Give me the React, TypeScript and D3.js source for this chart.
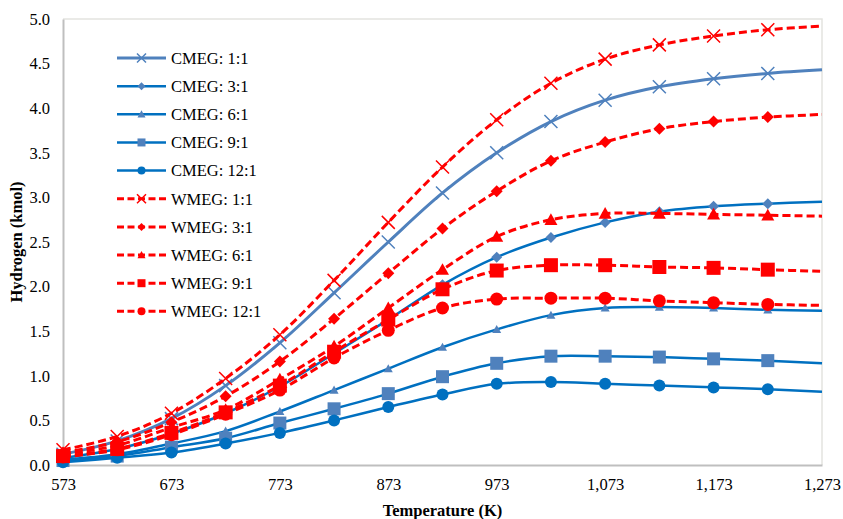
import React, { useEffect, useRef } from 'react';
import * as d3 from 'd3';

// Temperature (K) at which values were reported; last one has no marker
const temps = [573, 623, 673, 723, 773, 823, 873, 923, 973, 1023, 1073, 1123, 1173, 1223, 1273];

// Hydrogen (kmol)
const cmeg1 = [0.12, 0.27, 0.52, 0.89, 1.37, 1.93, 2.50, 3.05, 3.50, 3.85, 4.09, 4.24, 4.33, 4.39, 4.43];
const cmeg3 = [0.08, 0.18, 0.35, 0.58, 0.88, 1.25, 1.63, 2.02, 2.33, 2.55, 2.72, 2.84, 2.90, 2.93, 2.95];
const cmeg6 = [0.06, 0.12, 0.24, 0.38, 0.60, 0.84, 1.08, 1.32, 1.52, 1.68, 1.76, 1.77, 1.76, 1.74, 1.73];
const cmeg9 = [0.05, 0.10, 0.20, 0.30, 0.47, 0.63, 0.80, 0.99, 1.14, 1.22, 1.22, 1.21, 1.19, 1.17, 1.14];
const cmeg12 = [0.03, 0.08, 0.14, 0.24, 0.36, 0.50, 0.65, 0.79, 0.91, 0.93, 0.91, 0.89, 0.87, 0.85, 0.82];
const wmeg1 = [0.17, 0.32, 0.58, 0.97, 1.46, 2.07, 2.72, 3.34, 3.87, 4.28, 4.55, 4.71, 4.81, 4.88, 4.92];
const wmeg3 = [0.14, 0.26, 0.48, 0.77, 1.16, 1.64, 2.15, 2.65, 3.07, 3.41, 3.62, 3.77, 3.85, 3.90, 3.93];
const wmeg6 = [0.12, 0.22, 0.42, 0.62, 0.96, 1.33, 1.76, 2.19, 2.56, 2.75, 2.82, 2.82, 2.81, 2.80, 2.79];
const wmeg9 = [0.10, 0.18, 0.36, 0.59, 0.89, 1.27, 1.63, 1.97, 2.18, 2.24, 2.24, 2.22, 2.21, 2.19, 2.17];
const wmeg12 = [0.09, 0.17, 0.34, 0.57, 0.84, 1.20, 1.51, 1.76, 1.86, 1.87, 1.87, 1.84, 1.82, 1.80, 1.79];

const xTicks = [573, 673, 773, 873, 973, 1073, 1173, 1273];
const yTicks = [0, 0.5, 1, 1.5, 2, 2.5, 3, 3.5, 4, 4.5, 5];

const RED = '#FF0000';
const BLUE = '#0070C0';
const STEEL = '#4F81BD';

// series config, drawn in this order (WMEG on top)
const SERIES = [
  { name: 'CMEG: 1:1', values: cmeg1, line: STEEL, fill: STEEL, marker: 'x', size: 13, dashed: false, width: 3 },
  { name: 'CMEG: 3:1', values: cmeg3, line: BLUE, fill: STEEL, marker: 'diamond', size: 11, dashed: false, width: 2.5 },
  { name: 'CMEG: 6:1', values: cmeg6, line: BLUE, fill: STEEL, marker: 'triangle', size: 9, dashed: false, width: 2.5 },
  { name: 'CMEG: 9:1', values: cmeg9, line: BLUE, fill: STEEL, marker: 'square', size: 13, dashed: false, width: 2.5 },
  { name: 'CMEG: 12:1', values: cmeg12, line: BLUE, fill: BLUE, marker: 'circle', size: 12, dashed: false, width: 2.5 },
  { name: 'WMEG: 1:1', values: wmeg1, line: RED, fill: RED, marker: 'x', size: 13, dashed: true, width: 3 },
  { name: 'WMEG: 3:1', values: wmeg3, line: RED, fill: RED, marker: 'diamond', size: 12, dashed: true, width: 3 },
  { name: 'WMEG: 6:1', values: wmeg6, line: RED, fill: RED, marker: 'triangle', size: 13, dashed: true, width: 3 },
  { name: 'WMEG: 9:1', values: wmeg9, line: RED, fill: RED, marker: 'square', size: 14, dashed: true, width: 3 },
  { name: 'WMEG: 12:1', values: wmeg12, line: RED, fill: RED, marker: 'circle', size: 13, dashed: true, width: 3 }
];

// marker path centred on 0,0 with overall width s
const markerPath = (type, s) => {
  const h = s / 2;
  switch (type) {
    case 'x':
      return `M${-h},${-h}L${h},${h}M${-h},${h}L${h},${-h}`;
    case 'diamond':
      return `M0,${-h}L${h},0L0,${h}L${-h},0Z`;
    case 'triangle':
      return `M0,${-h}L${h},${h * 0.8}L${-h},${h * 0.8}Z`;
    case 'square':
      return `M${-h},${-h}H${h}V${h}H${-h}Z`;
    default:
      return d3.symbol().type(d3.symbolCircle).size(Math.PI * h * h)();
  }
};

const drawMarker = (sel, s, size, x, y) => {
  const p = sel.append('path')
    .attr('d', markerPath(s.marker, size))
    .attr('transform', `translate(${x},${y})`);
  if (s.marker === 'x') {
    p.attr('fill', 'none').attr('stroke', s.fill).attr('stroke-width', 1.5);
  } else {
    p.attr('fill', s.fill);
  }
};

const FONT = 'Liberation Serif';

const App = () => {
  const ref = useRef(null);

  useEffect(() => {
    const width = 843;
    const height = 519;
    const margin = { top: 19, right: 21, bottom: 54, left: 63 };

    d3.select(ref.current).selectAll('*').remove();

    const svg = d3.select(ref.current)
      .append('svg')
      .attr('width', width)
      .attr('height', height)
      .attr('font-family', FONT)
      .style('display', 'block')
      .style('background', '#fff');

    const x = d3.scaleLinear().domain([573, 1273]).range([margin.left, width - margin.right]);
    const y = d3.scaleLinear().domain([0, 5]).range([height - margin.bottom, margin.top]);

    // frame
    svg.append('path')
      .attr('d', `M${x(573)},${y(5)}H${x(1273)}V${y(0)}`)
      .attr('fill', 'none')
      .attr('stroke', '#e4e4e0')
      .attr('stroke-width', 1.5);

    // axes
    const xAxis = svg.append('g')
      .attr('transform', `translate(0,${y(0)})`)
      .call(d3.axisBottom(x).tickValues(xTicks).tickSize(0).tickPadding(13).tickFormat(d3.format(',')));
    const yAxis = svg.append('g')
      .attr('transform', `translate(${x(573)},0)`)
      .call(d3.axisLeft(y).tickValues(yTicks).tickSize(0).tickPadding(13).tickFormat(d3.format('.1f')));

    [xAxis, yAxis].forEach(a => {
      a.attr('font-family', FONT).attr('font-size', 16.5);
      a.select('.domain').attr('stroke', '#bfbfbf').attr('stroke-width', 2);
      a.selectAll('text').attr('fill', '#000');
    });

    // lines
    const line = d3.line()
      .x((d, i) => x(temps[i]))
      .y(d => y(d))
      .curve(d3.curveCatmullRom.alpha(0.5));

    SERIES.forEach(s => {
      svg.append('path')
        .datum(s.values)
        .attr('fill', 'none')
        .attr('stroke', s.line)
        .attr('stroke-width', s.width)
        .attr('stroke-dasharray', s.dashed ? '8,4' : null)
        .attr('d', line);

      const g = svg.append('g');
      s.values.slice(0, temps.length - 1).forEach((v, i) => {
        drawMarker(g, s, s.size, x(temps[i]), y(v));
      });
    });

    // legend
    const legend = svg.append('g').attr('transform', 'translate(117,58)');
    SERIES.forEach((s, i) => {
      const row = legend.append('g').attr('transform', `translate(0,${i * 28.15})`);
      row.append('line')
        .attr('x1', 0).attr('x2', 49)
        .attr('stroke', s.line)
        .attr('stroke-width', s.width)
        .attr('stroke-dasharray', s.dashed ? '7,3.5' : null);
      drawMarker(row, s, s.marker === 'x' ? 9 : 8, 24.5, 0);
      row.append('text')
        .attr('x', 54)
        .attr('y', 0)
        .attr('dy', '0.35em')
        .attr('font-size', 16.5)
        .attr('fill', '#000')
        .text(s.name);
    });

    // axis titles
    svg.append('text')
      .attr('x', (x(573) + x(1273)) / 2)
      .attr('y', 516)
      .attr('text-anchor', 'middle')
      .attr('font-size', 16.5)
      .attr('font-weight', 'bold')
      .text('Temperature (K)');

    svg.append('text')
      .attr('transform', `translate(22,${(y(0) + y(5)) / 2}) rotate(-90)`)
      .attr('text-anchor', 'middle')
      .attr('font-size', 16.5)
      .attr('font-weight', 'bold')
      .text('Hydrogen (kmol)');
  }, []);

  return <div ref={ref} style={{ position: 'absolute', left: 0, top: 0 }}></div>;
};

export default App;
